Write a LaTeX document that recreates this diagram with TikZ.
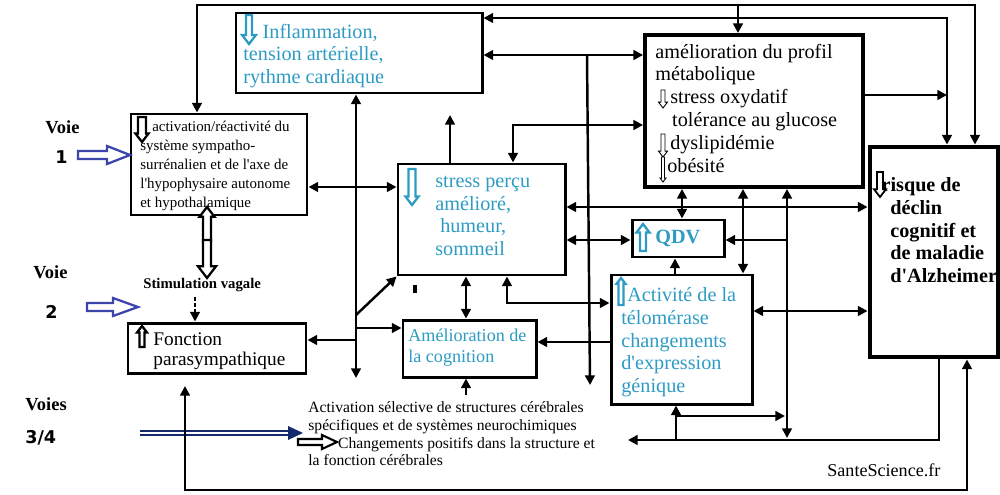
\documentclass[tikz,border=0pt]{standalone}
\usepackage{fontspec}
\setmainfont{Liberation Serif}
\newfontfamily\numfont{DejaVu Sans}
\usetikzlibrary{arrows.meta,fit}

\definecolor{cyantext}{RGB}{45,155,195}
\definecolor{voieblue}{RGB}{60,70,170}
\definecolor{voienavy}{RGB}{20,40,110}

\newcommand{\sq}{\textquotesingle}
% hollow arrow icons: x, top, bottom, half shaft, half head, style
\newcommand{\dnicon}[6]{%
  \draw[#6] (#1-#4,#2) -- (#1-#4,#3-1.3*#5) -- (#1-#5,#3-1.3*#5) -- (#1,#3)
    -- (#1+#5,#3-1.3*#5) -- (#1+#4,#3-1.3*#5) -- (#1+#4,#2) -- cycle;}
\newcommand{\upicon}[6]{%
  \draw[#6] (#1,#2) -- (#1+#5,#2+1.3*#5) -- (#1+#4,#2+1.3*#5) -- (#1+#4,#3)
    -- (#1-#4,#3) -- (#1-#4,#2+1.3*#5) -- (#1-#5,#2+1.3*#5) -- cycle;}

\begin{document}
\begin{tikzpicture}[
    x=0.02cm, y=-0.02cm,
    >={Triangle[length=5.5pt,width=5.5pt]},
    box/.style={draw, line width=1.7pt, inner sep=0pt},
    conn/.style={line width=1.4pt},
    txt/.style={inner sep=0pt, anchor=north west, align=left},
    lbl/.style={inner sep=0pt, anchor=base west},
    big/.style={font=\fontsize{11.5}{13}\selectfont},
    iconcyan/.style={cyantext, line width=1.3pt, fill=white},
    iconblack/.style={black, line width=1.3pt, fill=white},
    iconthin/.style={black, line width=0.5pt, fill=white}
]
\useasboundingbox (0,0) rectangle (1000,494);

% boxes
\node[box, fit={(236,13) (482,93)}] (infl) {};
\node[box, fit={(131,114) (307,215)}] (symp) {};
\node[box, line width=2.2pt, fit={(645,35) (863,187)}] (metab) {};
\node[box, line width=2.8pt, fit={(870,147) (998,357)}] (risk) {};
\node[box, fit={(398,164) (565,275)}] (stress) {};
\node[box, fit={(632,220) (724,257)}] (qdv) {};
\node[box, fit={(611,275) (752,404)}] (telo) {};
\node[box, fit={(403,320) (536,377)}] (cogn) {};
\node[box, fit={(128,323) (306,373)}] (fonct) {};

% box texts
\node[txt, big, text=cyantext] (inflTxt) at (243,23.5)
    {\hspace*{11pt}Inflammation,\\tension artérielle,\\rythme cardiaque};
\node[txt, font=\fontsize{8.5}{10.8}\selectfont] (sympTxt) at (140,121)
    {\hspace*{6.8pt}activation/réactivité du\\système sympatho-\\surrénalien et de l\sq axe de\\l\sq hypophysaire autonome\\et hypothalamique};
\node[txt, big] (metabTxt) at (655,43.5)
    {amélioration du profil\\métabolique\\\hspace*{8.5pt}stress oxydatif\\\hspace*{9.6pt}tolérance au glucose\\\hspace*{8.5pt}dyslipidémie\\\hspace*{6.8pt}obésité};
\node[txt, font=\bfseries\fontsize{11.5}{12.9}\selectfont] (riskTxt) at (890,177.5)
    {\hspace*{-5pt}risque de\\déclin\\cognitif et\\de maladie\\d\sq Alzheimer};
\node[txt, big, text=cyantext] (stressTxt) at (435,175.5)
    {stress perçu\\amélioré,\\\hspace*{2.8pt}humeur,\\sommeil};
\node[lbl, font=\bfseries\fontsize{11.5}{13}\selectfont, text=cyantext] (qdvTxt) at (655,243) {QDV};
\node[txt, font=\fontsize{11.5}{12.9}\selectfont, text=cyantext] (teloTxt) at (621,287.5)
    {\hspace*{3.4pt}Activité de la\\télomérase\\changements\\d\sq expression\\génique};
\node[txt, font=\fontsize{10.3}{11.7}\selectfont, text=cyantext] (cognTxt) at (408,329)
    {Amélioration de\\la cognition};
\node[txt, font=\fontsize{11}{11.3}\selectfont] (fonctTxt) at (153,332)
    {Fonction\\parasympathique};

% icons
\dnicon{249}{15}{44}{3}{7}{iconcyan}
\dnicon{142}{117}{142}{4}{6.5}{iconblack}
\dnicon{412}{169}{205}{3.5}{6.5}{iconcyan}
\upicon{643}{224}{251}{3}{6.5}{iconcyan}
\upicon{621}{278}{305}{2.5}{4.5}{iconcyan}
\upicon{142}{326}{347}{2.5}{5}{iconblack}
\dnicon{880}{172}{197}{3}{6}{black, line width=1pt, fill=white}
\dnicon{663}{90}{108}{2}{4.5}{iconthin}
\dnicon{663}{134}{157}{2}{4.5}{iconthin}
\dnicon{663}{157}{182}{1.5}{3}{iconthin}

% voies
\node[lbl, font=\bfseries\fontsize{10.5}{12}\selectfont] (voieA) at (45,133) {Voie};
\node[lbl, font=\numfont\bfseries\fontsize{10}{12}\selectfont] (numA) at (55,163) {1};
\node[lbl, font=\bfseries\fontsize{10.5}{12}\selectfont] (voieB) at (33,278) {Voie};
\node[lbl, font=\numfont\bfseries\fontsize{10}{12}\selectfont] (numB) at (45,318) {2};
\node[lbl, font=\bfseries\fontsize{10.5}{12}\selectfont] (voieC) at (25,410) {Voies};
\node[lbl, font=\numfont\bfseries\fontsize{10}{12}\selectfont] (numC) at (25,443) {3/4};
\draw[voieblue, line width=1.3pt] (78,151) -- (107,151) -- (107,146) -- (130,155)
    -- (107,164) -- (107,159) -- (78,159) -- cycle;
\draw[voieblue, line width=1.3pt] (87,303) -- (113,303) -- (113,298) -- (138,307)
    -- (113,316) -- (113,311) -- (87,311) -- cycle;
\draw[voienavy, line width=1pt] (140,431) -- (290,431) (140,435) -- (290,435);
\fill[voienavy] (288,426) -- (303,433) -- (288,440) -- cycle;

% stimulation vagale
\node[lbl, font=\bfseries\fontsize{8.4}{10}\selectfont] (stim) at (143,288) {Stimulation vagale};
\upicon{207}{207}{242}{4}{7.5}{iconblack}
\dnicon{207}{240}{278}{4}{9}{iconblack}
\draw[line width=1.2pt, dash pattern=on 2pt off 1.5pt, ->] (195,297) -- (fonct.north -| 195,0);

% bottom texts
\node[txt, font=\fontsize{8.9}{10.2}\selectfont] (bottomTxt) at (308,401)
    {Activation sélective de structures cérébrales\\spécifiques et de systèmes neurochimiques\\\hspace*{17pt}Changements positifs dans la structure et\\la fonction cérébrales};
\draw[line width=1.2pt, fill=white] (298,439) -- (322,439) -- (322,435) -- (337,442)
    -- (322,449) -- (322,445) -- (298,445) -- cycle;
\node[lbl, font=\fontsize{10.3}{12}\selectfont] (site) at (827,476) {SanteScience.fr};
\draw[line width=2pt] (415,285) -- (415,293);

% top loops
\coordinate (topL) at (197,5);
\coordinate (topM) at (738,5);
\coordinate (topR) at (975,5);
\coordinate (r18) at (947,18);
\draw[conn, <->] (symp.north -| topL) -- (topL) -- (topR) -- (topR |- risk.north);
\draw[conn, ->] (topM) -- (topM |- metab.north);
\draw[conn, <->] (infl.east |- r18) -- (r18) -- (r18 |- risk.north);
\draw[conn, ->] (metab.east |- 0,95) -- (r18 |- 0,95);
\draw[conn, <->] (infl.east |- 0,55) -- (metab.west |- 0,55);
\draw[conn, ->] (587,55) -- (590,385);
\draw[conn, <->] (stress.north -| 513,0) -- (513,125) -- (metab.west |- 0,125);
\draw[conn, ->] (stress.north -| 450,0) -- (450,115);

% left column
\draw[conn, <->] (infl.south -| 356,0) -- (356,378);
\draw[conn, <->] (symp.east |- 0,187) -- (stress.west |- 0,187);
\draw[conn, ->] (356,315) -- (stress.south west);
\draw[conn, ->] (356,328) -- (cogn.west |- 0,328);
\draw[conn, ->] (356,340) -- (fonct.east |- 0,340);
\draw[conn, <->] (stress.south -| 466,0) -- (cogn.north -| 466,0);
\draw[conn, ->] (466,395) -- (cogn.south -| 466,0);
\draw[conn, <->] (stress.south -| 507,0) -- (507,303) -- (telo.west |- 0,303);
\draw[conn, ->] (telo.west |- 0,342) -- (cogn.east |- 0,342);

% middle and right
\draw[conn, <->] (stress.east |- 0,207) -- (risk.west |- 0,207);
\draw[conn, <->] (stress.east |- 0,240) -- (qdv.west |- 0,240);
\draw[conn, <->] (metab.south -| 682,0) -- (qdv.north -| 682,0);
\draw[conn, <->] (metab.south -| 743,0) -- (telo.north -| 743,0);
\draw[conn, <->] (metab.south -| 787,0) -- (787,438);
\draw[conn, ->] (787,240) -- (qdv.east |- 0,240);
\draw[conn, ->] (telo.north -| 675,0) -- (qdv.south -| 675,0);
\draw[conn, <->] (telo.east |- 0,311) -- (risk.west |- 0,311);
\draw[conn, <-] (telo.south -| 676,0) -- (676,440);
\draw[conn, ->] (676,416) -- (785,416);
\draw[conn, ->] (risk.south -| 939,0) -- (939,440) -- (628,440);
\draw[conn, <->] (185,386) -- (185,490) -- (967,490) -- (risk.south -| 967,0);
\end{tikzpicture}
\end{document}
